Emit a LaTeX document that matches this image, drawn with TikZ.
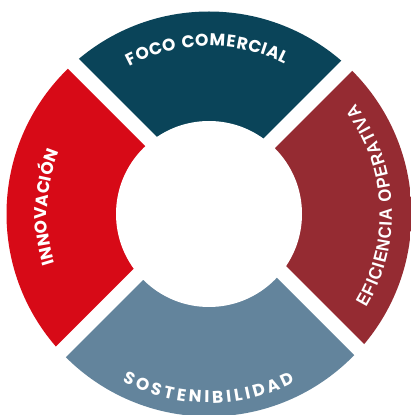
\documentclass[tikz,border=0pt]{standalone}
\usepackage{fontspec}
\usetikzlibrary{calc}
\newfontfamily\ringfont{Poppins}
\newfontfamily\libfont[FakeStretch=0.93]{Liberation Sans}
\newcommand\fRing{\ringfont\bfseries\fontsize{17}{17}\selectfont}
\newcommand\fEfi{\libfont\bfseries\fontsize{18}{18}\selectfont}
\definecolor{segTop}{HTML}{0A4459}
\definecolor{segLeft}{HTML}{D70A17}
\definecolor{segRight}{HTML}{952B32}
\definecolor{segBot}{HTML}{63849C}
\tikzset{
  ringchar/.style={inner sep=0pt, anchor=base, text=white}
}
% #1 font, #2 width scale (pt per em), #3 baseline radius, #4 angle of first char centre,
% #5 angle of last char centre, #6 list of char/width(em)
\newcommand\ringword[6]{%
  \xdef\rwTot{0}%
  \foreach \ch/\cw [count=\k] in {#6}{%
    \pgfmathsetmacro\rwTmp{\rwTot+\cw*#2}\xdef\rwTot{\rwTmp}%
    \ifnum\k=1 \xdef\rwWa{\cw}\fi
    \xdef\rwWb{\cw}\xdef\rwN{\k}%
  }%
  \pgfmathsetmacro\rwD{abs(#5-(#4))*#3/57.29578}%
  \pgfmathsetmacro\rwT{(\rwD-(\rwTot-0.5*\rwWa*#2-0.5*\rwWb*#2))/(\rwN-1)}%
  \pgfmathsetmacro\rwSg{((#5)>(#4))*2-1}%
  \xdef\rwS{0}%
  \foreach \ch/\cw in {#6}{%
    \pgfmathsetmacro\rwA{#4+(#5-(#4))*((\rwS+0.5*\cw*#2-0.5*\rwWa*#2)/\rwD)}%
    \pgfmathsetmacro\rwR{\rwA+\rwSg*90}%
    \node[ringchar, rotate=\rwR, font=#1] at ($(C)+(\rwA:#3pt)$) {\ch};
    \pgfmathsetmacro\rwTmp{\rwS+\cw*#2+\rwT}\xdef\rwS{\rwTmp}%
  }%
}
\begin{document}
\begin{tikzpicture}[x=1pt,y=1pt]
\useasboundingbox (0,0) rectangle (411,415);
\coordinate (C) at (209,201);
\begin{scope}
  \clip (C) circle[radius=202.5pt];
  \fill[segTop]   (211,224) -- (-89,524) -- (511,524) -- cycle;
  \fill[segLeft]  (200.75,213.25) -- (-99.25,513.25) -- (-99.25,-86.75) -- cycle;
  \fill[segBot]   (211,203) -- (-89,-97) -- (511,-97) -- cycle;
  \fill[segRight] (221.5,213.5) -- (521.5,513.5) -- (521.5,-86.5) -- cycle;
\end{scope}
\fill[white] (C) circle[radius=93pt];
\ringword{\fRing}{17}{168}{116.7}{64.45}{F/0.55,O/0.78,C/0.70,O/0.78,~/0.26,C/0.70,O/0.78,M/0.88,E/0.57,R/0.64,C/0.70,I/0.29,A/0.72,L/0.50}
\ringword{\fRing}{17}{189}{244.26}{295.1}{S/0.60,O/0.78,S/0.60,T/0.60,E/0.57,N/0.74,I/0.29,B/0.66,I/0.29,L/0.50,I/0.29,D/0.72,A/0.72,D/0.72}
\ringword{\fRing}{17}{162}{197}{159.6}{I/0.29,N/0.74,N/0.74,O/0.78,V/0.70,A/0.72,C/0.70,I/0.29,Ó/0.78,N/0.74}
\ringword{\fEfi}{16.74}{183}{-29.1}{35.1}{E/0.667,F/0.611,I/0.278,C/0.722,I/0.278,E/0.667,N/0.722,C/0.722,I/0.278,A/0.722,~/0.278,O/0.778,P/0.667,E/0.667,R/0.722,A/0.722,T/0.611,I/0.278,V/0.667,A/0.722}
\end{tikzpicture}
\end{document}
